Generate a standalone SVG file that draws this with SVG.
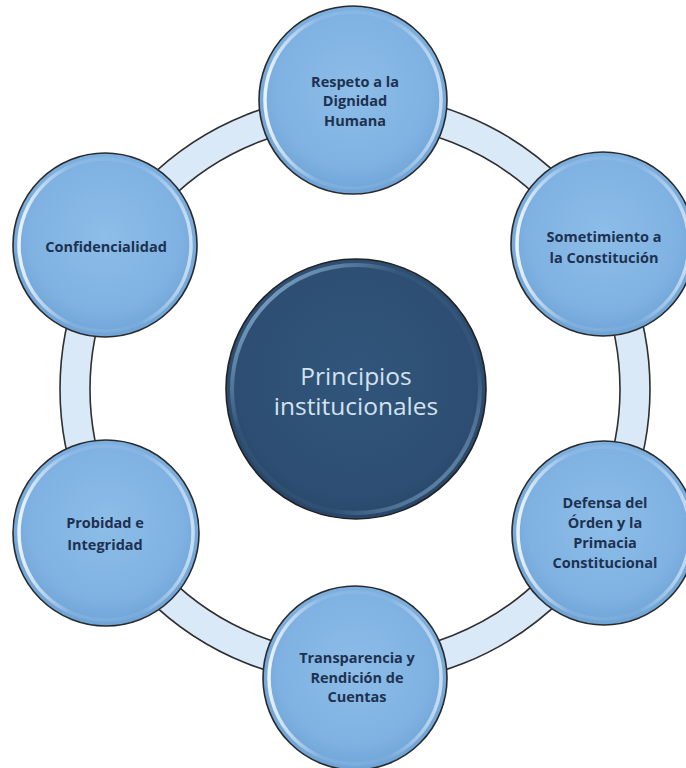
<svg xmlns="http://www.w3.org/2000/svg" width="686" height="768" viewBox="0 0 686 768">
<defs>
<radialGradient id="satFill" cx="50%" cy="45%" r="55%">
<stop offset="0%" stop-color="#8dbde8"/>
<stop offset="75%" stop-color="#7fb2e2"/>
<stop offset="100%" stop-color="#6ea3d6"/>
</radialGradient>
<linearGradient id="rim" x1="0" y1="0" x2="1" y2="0">
<stop offset="0%" stop-color="#ffffff" stop-opacity="0.85"/>
<stop offset="30%" stop-color="#ffffff" stop-opacity="0.1"/>
<stop offset="70%" stop-color="#ffffff" stop-opacity="0.05"/>
<stop offset="100%" stop-color="#ffffff" stop-opacity="0.6"/>
</linearGradient>
<radialGradient id="centerFill" cx="50%" cy="45%" r="55%">
<stop offset="0%" stop-color="#31557b"/>
<stop offset="85%" stop-color="#2d4e72"/>
<stop offset="100%" stop-color="#27466a"/>
</radialGradient>
<linearGradient id="centerRim" x1="0" y1="0" x2="1" y2="1">
<stop offset="0%" stop-color="#a9d3f2" stop-opacity="0.9"/>
<stop offset="35%" stop-color="#a9d3f2" stop-opacity="0.05"/>
<stop offset="70%" stop-color="#a9d3f2" stop-opacity="0.05"/>
<stop offset="100%" stop-color="#a9d3f2" stop-opacity="0.7"/>
</linearGradient>
</defs>
<style>
.sat{fill:url(#satFill);stroke:#2b2b2b;stroke-width:1.6}
.rim{fill:none;stroke:url(#rim);stroke-width:3.5}
.lbl{font-family:"Open Sans","Liberation Sans",sans-serif;font-weight:bold;font-size:14.5px;fill:#1e3150;text-anchor:middle}
.ctr{font-family:"Open Sans","Liberation Sans",sans-serif;font-size:24.5px;fill:#d4e2ef;text-anchor:middle}
.band{fill:none;stroke:#dae9f7;stroke-width:30}
.edge{fill:none;stroke:#2f2f2f;stroke-width:1.6}
</style>
<rect width="686" height="768" fill="#ffffff"/>
<g id="connectors">
<circle class="band" cx="355" cy="389" r="280"/>
<circle class="edge" cx="355" cy="389" r="295"/>
<circle class="edge" cx="355" cy="389" r="265"/>
</g>
<g id="node-center">
<circle cx="356" cy="389" r="130" fill="url(#centerFill)" stroke="#222" stroke-width="1.6"/>
<circle cx="356" cy="389" r="124" fill="none" stroke="url(#centerRim)" stroke-width="4"/>
<text class="ctr" x="356" y="385">Principios</text>
<text class="ctr" x="356" y="415">institucionales</text>
</g>
<g id="node-dignidad">
<circle class="sat" cx="353" cy="100" r="94"/>
<circle class="rim" cx="353" cy="100" r="88"/>
<text class="lbl" x="355" y="87">Respeto a la</text>
<text class="lbl" x="355" y="106">Dignidad</text>
<text class="lbl" x="355" y="126">Humana</text>
</g>
<g id="node-constitucion">
<circle class="sat" cx="603" cy="244" r="92"/>
<circle class="rim" cx="603" cy="244" r="86"/>
<text class="lbl" x="604" y="242">Sometimiento a</text>
<text class="lbl" x="604" y="263">la Constitución</text>
</g>
<g id="node-defensa">
<circle class="sat" cx="604" cy="533" r="92"/>
<circle class="rim" cx="604" cy="533" r="86"/>
<text class="lbl" x="605" y="508">Defensa del</text>
<text class="lbl" x="605" y="528">Órden y la</text>
<text class="lbl" x="605" y="548">Primacia</text>
<text class="lbl" x="605" y="568">Constitucional</text>
</g>
<g id="node-transparencia">
<circle class="sat" cx="355" cy="678" r="92"/>
<circle class="rim" cx="355" cy="678" r="86"/>
<text class="lbl" x="357" y="663">Transparencia y</text>
<text class="lbl" x="357" y="683">Rendición de</text>
<text class="lbl" x="357" y="702">Cuentas</text>
</g>
<g id="node-probidad">
<circle class="sat" cx="106" cy="533" r="93"/>
<circle class="rim" cx="106" cy="533" r="87"/>
<text class="lbl" x="105" y="528">Probidad e</text>
<text class="lbl" x="105" y="550">Integridad</text>
</g>
<g id="node-confidencialidad">
<circle class="sat" cx="105" cy="245" r="92"/>
<circle class="rim" cx="105" cy="245" r="86"/>
<text class="lbl" x="106" y="252">Confidencialidad</text>
</g>
</svg>
